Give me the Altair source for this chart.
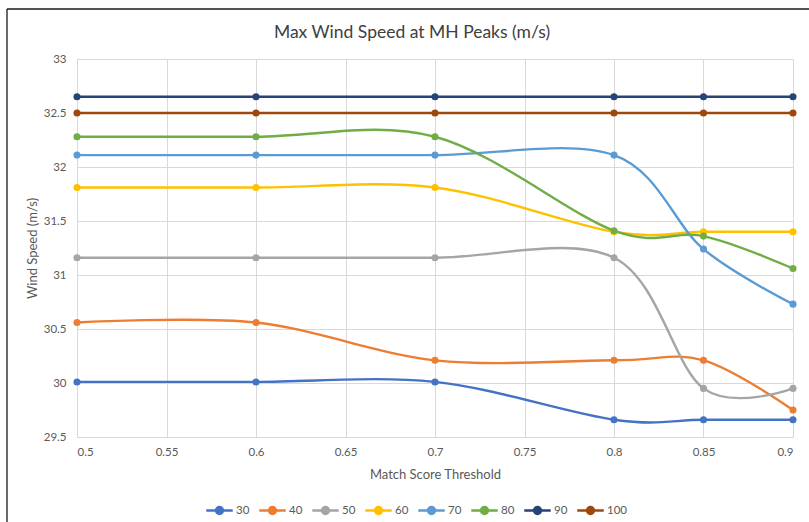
import altair as alt
import pandas as pd

# Match score thresholds (x) and max wind speed per series (y)
thresholds = [0.5, 0.6, 0.7, 0.8, 0.85, 0.9]
series_names = ["30", "40", "50", "60", "70", "80", "90", "100"]

s30 = [30.01, 30.01, 30.01, 29.66, 29.66, 29.66]
s40 = [30.56, 30.56, 30.21, 30.21, 30.21, 29.75]
s50 = [31.16, 31.16, 31.16, 31.16, 29.95, 29.95]
s60 = [31.81, 31.81, 31.81, 31.40, 31.40, 31.40]
s70 = [32.11, 32.11, 32.11, 32.11, 31.24, 30.73]
s80 = [32.28, 32.28, 32.28, 31.41, 31.36, 31.06]
s90 = [32.65, 32.65, 32.65, 32.65, 32.65, 32.65]
s100 = [32.50, 32.50, 32.50, 32.50, 32.50, 32.50]

series_values = [s30, s40, s50, s60, s70, s80, s90, s100]
palette = ["#4472C4", "#ED7D31", "#A5A5A5", "#FFC000",
           "#5B9BD5", "#70AD47", "#264478", "#9E480E"]

x_ticks = [0.5, 0.55, 0.6, 0.65, 0.7, 0.75, 0.8, 0.85, 0.9]
y_ticks = [29.5, 30, 30.5, 31, 31.5, 32, 32.5, 33]

rows = []
for name, vals in zip(series_names, series_values):
    for t, v in zip(thresholds, vals):
        rows.append({"threshold": t, "series": name, "speed": v,
                     "order": series_names.index(name)})
df = pd.DataFrame(rows)

FONT = "Lato"
GREY = "#595959"

# legend glyph: short line with a dot in the middle
legend_glyph = ("M-1,0L-0.26,0A0.26,0.26,0,1,1,0.26,0"
                "A0.26,0.26,0,1,1,-0.26,0M0.26,0L1,0")

color = alt.Color(
    "series:N",
    scale=alt.Scale(domain=series_names, range=palette),
    sort=series_names,
    legend=alt.Legend(
        title=None, orient="none", direction="horizontal",
        legendX=128, legendY=437,
        symbolType=legend_glyph, symbolSize=700, symbolStrokeWidth=2.5,
        labelFont=FONT, labelFontSize=11.5, labelColor=GREY,
        labelOffset=2, columnPadding=4,
    ),
)

x = alt.X("threshold:Q",
          scale=alt.Scale(domain=[0.5, 0.9], nice=False, zero=False),
          axis=alt.Axis(values=x_ticks, format="~g", title="Match Score Threshold",
                        titlePadding=11, labelPadding=9))
y = alt.Y("speed:Q",
          scale=alt.Scale(domain=[29.5, 33], nice=False, zero=False),
          axis=alt.Axis(values=y_ticks, format="~g", title="Wind Speed (m/s)",
                        titlePadding=4, labelPadding=11))

base = alt.Chart(df)

lines = base.mark_line(interpolate="cardinal", strokeWidth=2.4).encode(
    x=x, y=y, color=color, order="order:Q"
)
points = base.mark_point(filled=True, size=50, opacity=1).encode(
    x=x, y=y, color=alt.Color("series:N",
                              scale=alt.Scale(domain=series_names, range=palette),
                              legend=None)
)

# chart frame edges (top and left)
frame_top = alt.Chart(alt.Data(values=[{}])).mark_rule(
    color="#1a1a1a", strokeWidth=1.3
).encode(x=alt.value(-70), x2=alt.value(800), y=alt.value(-50))
frame_left = alt.Chart(alt.Data(values=[{}])).mark_rule(
    color="#1a1a1a", strokeWidth=1.3
).encode(x=alt.value(-70), y=alt.value(-50), y2=alt.value(600))

chart = alt.layer(lines, points, frame_top, frame_left).properties(
    width=716,
    height=378,
    title=alt.TitleParams("Max Wind Speed at MH Peaks (m/s)", font=FONT,
                          fontSize=17.5, fontWeight="normal", color="#404040",
                          anchor="middle", frame="group", dx=-23, offset=-33),
    autosize=alt.AutoSizeParams(type="none"),
    padding={"left": 77, "top": 59, "right": 16, "bottom": 85},
    background="white",
).configure_view(stroke=None).configure_axis(
    gridColor="#d9d9d9", domainColor="#d9d9d9", ticks=False,
    labelFont=FONT, labelFontSize=11.5, labelColor=GREY,
    titleFont=FONT, titleFontSize=13, titleFontWeight="normal", titleColor=GREY,
)

chart.save("out.html", embed_options={"renderer": "svg", "actions": False})
